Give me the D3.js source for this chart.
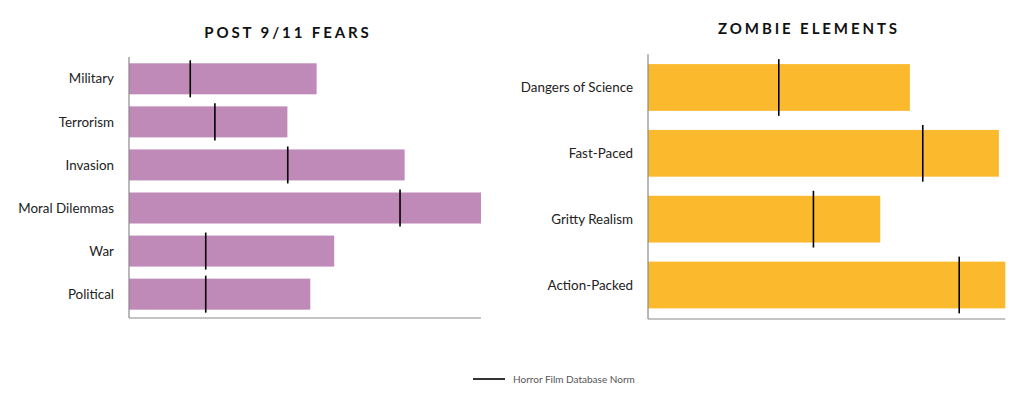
<!DOCTYPE html>
<html>
<head>
<meta charset="utf-8">
<script src="https://cdn.jsdelivr.net/npm/d3@7"></script>
<style>
  body { margin: 0; background: #fff; }
  svg { font-family: Lato, "Open Sans", sans-serif; }
</style>
</head>
<body>
<div id="chart"></div>
<script>
// left panel data
var fearCats = ["Military", "Terrorism", "Invasion", "Moral Dilemmas", "War", "Political"];
var fearVals = [53.3, 45.0, 78.3, 100, 58.3, 51.5];
var fearNorm = [17.4, 24.4, 45.1, 77.0, 21.8, 21.8];

// right panel data
var zombieCats = ["Dangers of Science", "Fast-Paced", "Gritty Realism", "Action-Packed"];
var zombieVals = [73.3, 98.2, 65.0, 100];
var zombieNorm = [36.6, 76.9, 46.3, 87.1];

var legendLabel = "Horror Film Database Norm";

var svg = d3.select("#chart").append("svg")
  .attr("width", 1024)
  .attr("height", 398);

function drawPanel(cfg) {
  var x = d3.scaleLinear().domain([0, 100]).range([cfg.x0, cfg.x1]);
  var y = d3.scaleBand()
    .domain(cfg.cats)
    .range([cfg.y0, cfg.y1])
    .paddingInner(cfg.pin)
    .paddingOuter(cfg.pout)
    .align(cfg.align);

  var g = svg.append("g");

  g.append("text")
    .attr("x", cfg.titleX)
    .attr("y", cfg.titleY)
    .attr("text-anchor", "middle")
    .style("font-size", "15px")
    .style("font-weight", "bold")
    .style("letter-spacing", "2.9px")
    .style("fill", "#111")
    .text(cfg.title);

  var rows = cfg.cats.map(function(c, i) {
    return { cat: c, val: cfg.vals[i], norm: cfg.norm[i] };
  });

  g.selectAll("rect.bar")
    .data(rows)
    .enter().append("rect")
    .attr("class", "bar")
    .attr("x", x(0))
    .attr("y", function(d) { return y(d.cat); })
    .attr("width", function(d) { return x(d.val) - x(0); })
    .attr("height", y.bandwidth())
    .attr("fill", cfg.color);

  // axes: plain gray lines
  g.append("line")
    .attr("x1", x(0)).attr("x2", x(0))
    .attr("y1", cfg.y0).attr("y2", cfg.y1)
    .attr("stroke", "#8a8a8a").attr("stroke-width", 1.2);
  g.append("line")
    .attr("x1", x(0)).attr("x2", x(100))
    .attr("y1", cfg.y1).attr("y2", cfg.y1)
    .attr("stroke", "#8a8a8a").attr("stroke-width", 1.2);

  g.selectAll("text.cat")
    .data(rows)
    .enter().append("text")
    .attr("class", "cat")
    .attr("x", x(0) - cfg.labelGap)
    .attr("y", function(d) { return y(d.cat) + y.bandwidth() / 2; })
    .attr("dy", "0.35em")
    .attr("text-anchor", "end")
    .style("font-size", "13.4px")
    .style("fill", "#222")
    .text(function(d) { return d.cat; });

  // norm markers
  g.selectAll("line.norm")
    .data(rows)
    .enter().append("line")
    .attr("class", "norm")
    .attr("x1", function(d) { return x(d.norm); })
    .attr("x2", function(d) { return x(d.norm); })
    .attr("y1", function(d) { return y(d.cat) - cfg.over; })
    .attr("y2", function(d) { return y(d.cat) + y.bandwidth() + cfg.over; })
    .attr("stroke", "#000")
    .attr("stroke-width", 1.6);
}

drawPanel({
  title: "POST 9/11 FEARS", titleX: 288, titleY: 38,
  cats: fearCats, vals: fearVals, norm: fearNorm,
  x0: 129, x1: 481, y0: 57, y1: 318,
  pin: 0.28, pout: 0.17, align: 0.43,
  color: "#bf89b8", labelGap: 15, over: 3
});

drawPanel({
  title: "ZOMBIE ELEMENTS", titleX: 809, titleY: 34,
  cats: zombieCats, vals: zombieVals, norm: zombieNorm,
  x0: 648, x1: 1005.3, y0: 54.3, y1: 319,
  pin: 0.29, pout: 0.155, align: 0.48,
  color: "#fbb92e", labelGap: 15, over: 5
});

// legend
var lg = svg.append("g");
lg.append("line")
  .attr("x1", 473).attr("x2", 505)
  .attr("y1", 379).attr("y2", 379)
  .attr("stroke", "#000").attr("stroke-width", 1.6);
lg.append("text")
  .attr("x", 513).attr("y", 379)
  .attr("dy", "0.35em")
  .style("font-size", "10px")
  .style("fill", "#555")
  .text(legendLabel);
</script>
</body>
</html>
